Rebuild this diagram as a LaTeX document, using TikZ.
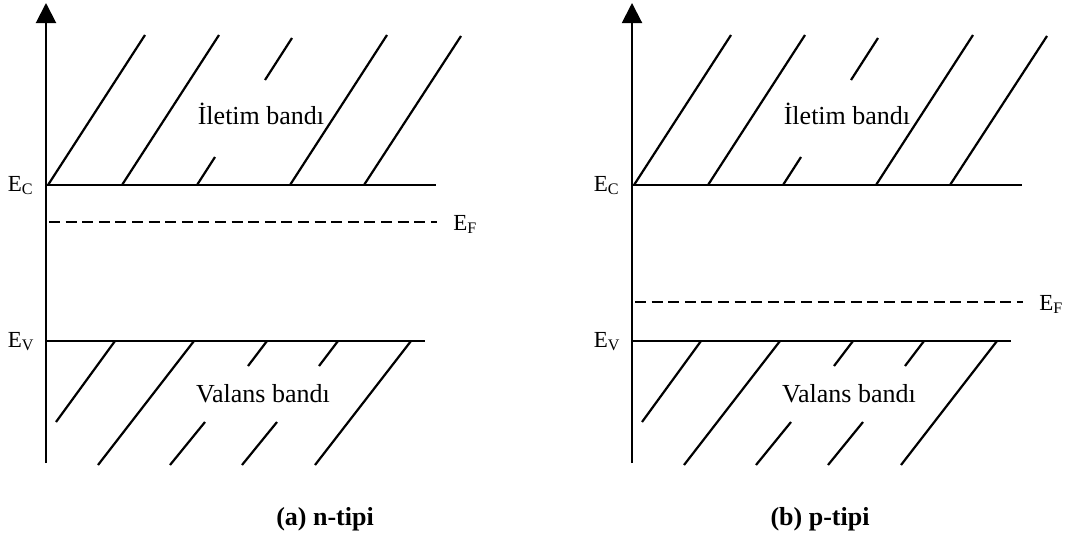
\documentclass[tikz,border=0pt]{standalone}
\usepackage{fontspec}
\setmainfont{Liberation Serif}
\usetikzlibrary{arrows.meta}

\tikzset{
  axis/.style={line width=1pt, -{Triangle[width=10pt,length=10pt]}},
  level/.style={line width=1pt},
  fermi/.style={line width=0.75pt, dash pattern=on 5.5pt off 2.8pt},
  hatch/.style={line width=1.1pt},
  lvl/.style={font=\fontsize{11.5}{13}\selectfont, inner sep=0pt},
  bandtext/.style={font=\fontsize{13}{15}\selectfont, inner sep=0pt},
  caption/.style={font=\fontsize{13}{15}\selectfont\bfseries, inner sep=0pt}
}

\begin{document}
\begin{tikzpicture}[x=0.5pt, y=-0.5pt]
  \useasboundingbox (0,0) rectangle (1074,546);

  \foreach \s/\f in {0/222, 586/302}
  {
  \begin{scope}[shift={(\s,0)}]
    \draw[axis] (46,463) -- (46,3);
    \draw[level] (46,185) -- (436,185);
    \draw[level] (46,341) -- (425,341);
    \draw[fermi] (49,\f) -- (437,\f);

    % iletim bandi
    \foreach \a/\b/\c/\d in {48/185/145/35, 122/185/219/35, 197/185/215/157,
                              265/80/292/38, 290/185/387/35, 364/185/461/36}
    \draw[hatch] (\a,\b) -- (\c,\d);
    % valans bandi
    \foreach \a/\b/\c/\d in {115/341/56/422, 194/341/98/465, 267/341/248/366,
                              205/422/170/465, 338/341/319/366, 277/422/242/465,
                              411/341/315/465}
    \draw[hatch] (\a,\b) -- (\c,\d);

    \node[lvl, anchor=base east] (ec\s) at (34,191) {E\textsubscript{C}};
    \node[lvl, anchor=base east] (ev\s) at (35,347) {E\textsubscript{V}};
    \node[lvl, anchor=base west] (ef\s) at (453,\f+8) {E\textsubscript{F}};
    \node[bandtext, anchor=base] (ib\s) at (261,124) {İletim bandı};
    \node[bandtext, anchor=base] (vb\s) at (263,402) {Valans bandı};
  \end{scope}
  }

  \node[caption, anchor=base] (capa) at (325,525) {(a) n-tipi};
  \node[caption, anchor=base] (capb) at (820,525) {(b) p-tipi};
\end{tikzpicture}
\end{document}
